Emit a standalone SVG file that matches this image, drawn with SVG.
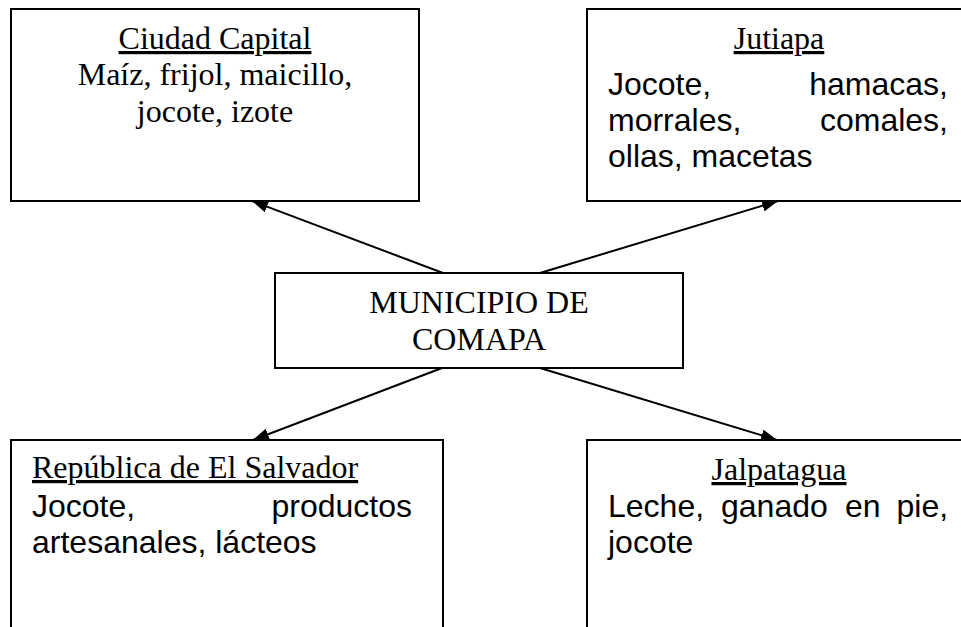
<svg xmlns="http://www.w3.org/2000/svg" width="961" height="627" viewBox="0 0 961 627">
<style>
.box{fill:#fff;stroke:#000;stroke-width:2}
.serif{font-family:"Liberation Serif","Times New Roman",serif;font-size:32px;fill:#000}
.sans{font-family:"Liberation Sans",Arial,sans-serif;font-size:32px;fill:#000}
.title{text-decoration:underline}
.mid{text-anchor:middle}
.end{text-anchor:end}
.conn{stroke:#000;stroke-width:2;fill:none;marker-end:url(#arr)}
</style>
<defs>
<marker id="arr" markerUnits="userSpaceOnUse" markerWidth="16" markerHeight="12" refX="16" refY="6" orient="auto">
<path d="M0,0 L16,6 L0,12 z" fill="#000"/>
</marker>
</defs>
<rect x="0" y="0" width="961" height="627" fill="#fff"/>
<g id="ciudad-capital">
<rect class="box" x="11" y="9" width="408" height="192"/>
<text class="serif mid title" x="215" y="49">Ciudad Capital</text>
<text class="serif mid" x="215" y="85">Maíz, frijol, maicillo,</text>
<text class="serif mid" x="215" y="122">jocote, izote</text>
</g>
<g id="jutiapa">
<rect class="box" x="587" y="9" width="384" height="192"/>
<text class="serif mid title" x="779" y="49">Jutiapa</text>
<text class="sans" x="608" y="95">Jocote,</text>
<text class="sans end" x="948" y="95">hamacas,</text>
<text class="sans" x="608" y="131">morrales,</text>
<text class="sans end" x="948" y="131">comales,</text>
<text class="sans" x="608" y="167">ollas, macetas</text>
</g>
<g id="municipio">
<rect class="box" x="275" y="273" width="408" height="95"/>
<text class="serif mid" x="479" y="313">MUNICIPIO DE</text>
<text class="serif mid" x="479" y="350">COMAPA</text>
</g>
<g id="el-salvador">
<rect class="box" x="11" y="440" width="432" height="250"/>
<text class="serif title" x="32" y="478">República de El Salvador</text>
<text class="sans" x="32" y="517">Jocote,</text>
<text class="sans end" x="412" y="517">productos</text>
<text class="sans" x="32" y="553">artesanales, lácteos</text>
</g>
<g id="jalpatagua">
<rect class="box" x="587" y="440" width="384" height="250"/>
<text class="serif mid title" x="779" y="480">Jalpatagua</text>
<text class="sans" y="517"><tspan x="608">Leche,</tspan><tspan x="721">ganado</tspan><tspan x="845">en</tspan><tspan x="896.5">pie,</tspan></text>
<text class="sans" x="608" y="553">jocote</text>
</g>
<g id="connectors">
<line class="conn" x1="443" y1="273" x2="252" y2="201"/>
<line class="conn" x1="540" y1="273" x2="778" y2="201"/>
<line class="conn" x1="442" y1="368" x2="253" y2="440"/>
<line class="conn" x1="540" y1="368" x2="777" y2="440"/>
</g>
</svg>
